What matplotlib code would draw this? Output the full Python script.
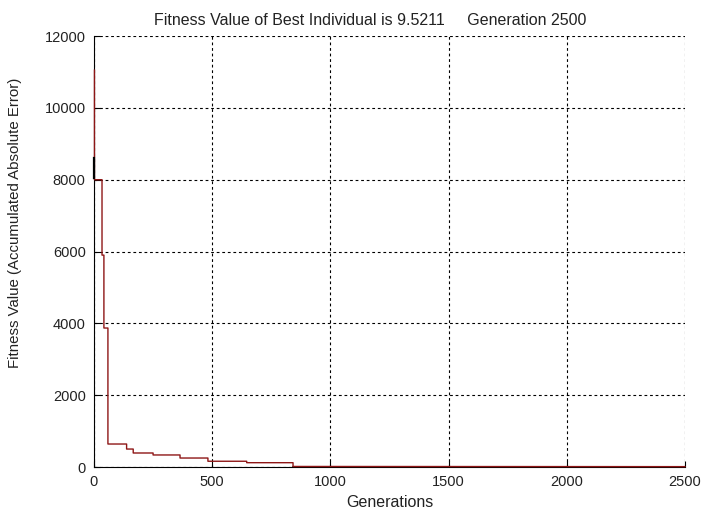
import matplotlib
matplotlib.use('Agg')
import matplotlib.pyplot as plt

plt.rcParams['font.family'] = ['Liberation Sans', 'DejaVu Sans']
plt.rcParams['font.size'] = 10.5

# step points of best fitness
gen = [2, 2, 34, 34, 42, 42, 59, 59, 138, 138, 166, 166, 250, 250,
       364, 364, 482, 482, 646, 646, 842, 842, 2500]
fitness = [11050, 8000, 8000, 5900, 5900, 3870, 3870, 640, 640, 500, 500,
           390, 390, 335, 335, 250, 250, 160, 160, 120, 120, 15, 10]

# short dark piece at the very start
start_gen = [2, 2]
start_fit = [8600, 8050]

fig = plt.figure(figsize=(7.05, 5.15), dpi=100)
ax = fig.add_axes([0.1333, 0.0932, 0.8383, 0.8368])

ax.plot(gen, fitness, color='#8e1616', linewidth=1.0, zorder=3, clip_on=False)
ax.plot(start_gen, start_fit, color='black', linewidth=1.6, zorder=3, clip_on=False)
# dark line along the bottom where fitness is near zero
ax.plot(gen[-2:], [0, 0], color='black', linewidth=1.2, zorder=2.9, clip_on=False)

ax.set_xlim(0, 2500)
ax.set_ylim(0, 12000)
ax.set_xticks([0, 500, 1000, 1500, 2000, 2500])
ax.set_yticks([0, 2000, 4000, 6000, 8000, 10000, 12000])
ax.grid(True, color='black', linestyle=(0, (2.5, 2.5)), linewidth=0.8)
ax.tick_params(direction='in', length=4, color='black', labelcolor='#222222',
               labelsize=10.5, pad=6)
ax.spines['top'].set_visible(False)
ax.spines['right'].set_visible(False)

ax.text(0.467, 1.018, 'Fitness Value of Best Individual is 9.5211     Generation 2500',
        transform=ax.transAxes, ha='center', va='bottom', fontsize=11.5, color='#222222')
ax.set_xlabel('Generations', fontsize=11.5, labelpad=4, color='#222222')
ax.set_ylabel('Fitness Value (Accumulated Absolute Error)', fontsize=10.8, color='#222222')
ax.yaxis.set_label_coords(-0.122, 0.566)

fig.savefig('out.png')
